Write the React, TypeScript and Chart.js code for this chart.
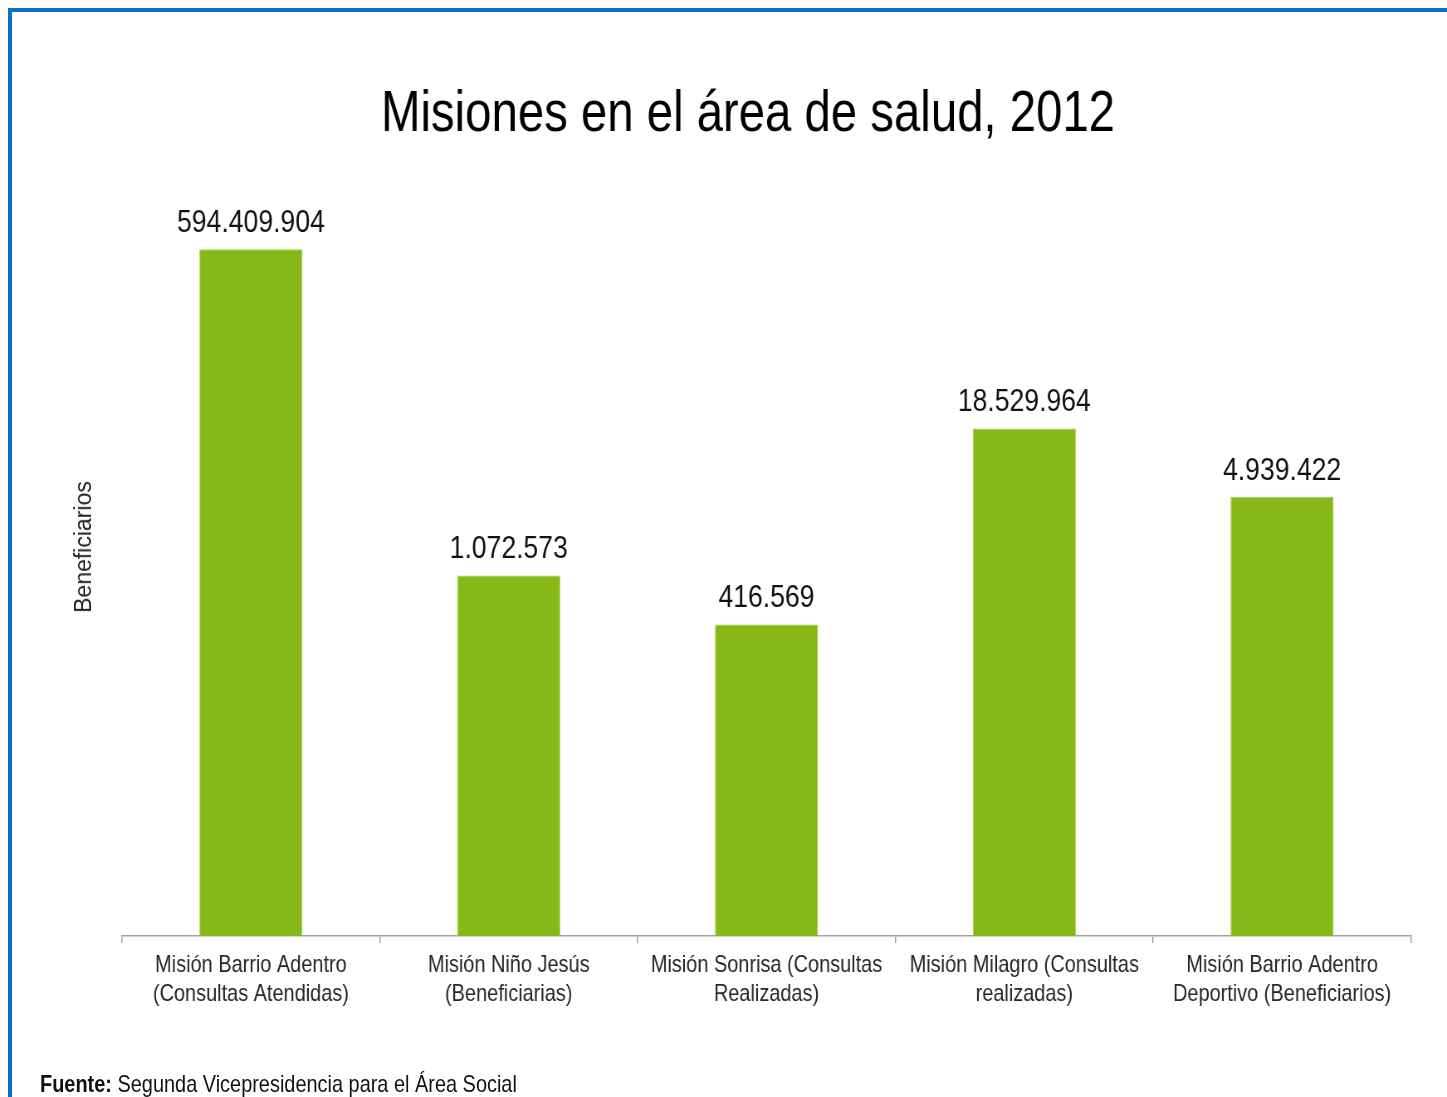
import { useEffect, useRef } from "react";
import { Chart, registerables } from "chart.js";

Chart.register(...registerables);

const categories: string[][] = [
  ["Misión Barrio Adentro", "(Consultas Atendidas)"],
  ["Misión Niño Jesús", "(Beneficiarias)"],
  ["Misión Sonrisa (Consultas", "Realizadas)"],
  ["Misión Milagro (Consultas", "realizadas)"],
  ["Misión Barrio Adentro", "Deportivo (Beneficiarios)"],
];
const values: number[] = [594409904, 1072573, 416569, 18529964, 4939422];
const titleText = "Misiones en el área de salud, 2012";
const yAxisTitle = "Beneficiarios";
const sourceLabel = "Fuente:";
const sourceText = "Segunda Vicepresidencia para el Área Social";
const yMin = 1000;
const yMax = 1000000000;

// No narrow font is installed: the canvas is drawn wider and squeezed
// horizontally so that the text looks like the reference's narrow face.
const CSS_W = 1447;
const CSS_H = 1097;
const SQUEEZE = 0.83;
const CANVAS_W = Math.round(CSS_W / SQUEEZE);

const FONT = '"Liberation Sans", Arial, sans-serif';

function formatNumber(v: number): string {
  return Math.round(v)
    .toString()
    .replace(/\B(?=(\d{3})+(?!\d))/g, ".");
}

const valueLabelPlugin = {
  id: "valueLabels",
  afterDatasetsDraw(chart: any) {
    const ctx = chart.ctx;
    const meta = chart.getDatasetMeta(0);
    ctx.save();
    ctx.font = `32px ${FONT}`;
    ctx.fillStyle = "#111111";
    ctx.textAlign = "center";
    ctx.textBaseline = "middle";
    meta.data.forEach((bar: any, i: number) => {
      const v = chart.data.datasets[0].data[i] as number;
      ctx.fillText(formatNumber(v), bar.x, bar.y - 26);
    });
    ctx.restore();
  },
};

export default function App() {
  const canvasRef = useRef<HTMLCanvasElement | null>(null);

  useEffect(() => {
    if (!canvasRef.current) return;
    const sx = (v: number) => v / SQUEEZE;
    const chart = new Chart(canvasRef.current, {
      type: "bar",
      data: {
        labels: categories,
        datasets: [
          {
            data: values,
            backgroundColor: "#86b817",
            borderColor: "#9fd036",
            borderWidth: 1,
            barPercentage: 0.4,
            categoryPercentage: 1.0,
          },
        ],
      },
      options: {
        animation: false,
        responsive: false,
        maintainAspectRatio: false,
        devicePixelRatio: 1,
        layout: {
          padding: { left: sx(85), right: sx(36), top: 0, bottom: 80 },
        },
        plugins: {
          legend: { display: false },
          tooltip: { enabled: false },
          title: {
            display: true,
            text: titleText,
            color: "#000000",
            font: { family: FONT, size: 57, weight: "normal", lineHeight: 1.2 },
            padding: { top: 81, bottom: 73 },
          },
        },
        scales: {
          x: {
            grid: {
              display: true,
              drawOnChartArea: false,
              drawTicks: true,
              tickLength: 7,
              color: "#a0a0a0",
              lineWidth: 1.5,
              offset: true,
            },
            border: { display: true, color: "#a0a0a0", width: 1.5 },
            ticks: {
              autoSkip: false,
              maxRotation: 0,
              minRotation: 0,
              padding: 8,
              color: "#262626",
              font: { family: FONT, size: 24, lineHeight: "29px" },
            },
          },
          y: {
            type: "logarithmic",
            min: yMin,
            max: yMax,
            display: true,
            grid: { display: false, drawTicks: false },
            border: { display: false },
            ticks: { display: false },
            title: { display: false },
            afterFit: (scale: any) => {
              scale.width = sx(122) - sx(85);
            },
          },
        },
      },
      plugins: [valueLabelPlugin],
    });
    return () => chart.destroy();
  }, []);

  return (
    <div
      style={{
        position: "absolute",
        left: 0,
        top: 0,
        width: CSS_W,
        height: CSS_H,
        overflow: "hidden",
        background: "#ffffff",
      }}
    >
      <div
        style={{
          position: "absolute",
          left: 8,
          top: 8,
          width: CSS_W,
          height: CSS_H,
          borderTop: "4px solid #0b70c1",
          borderLeft: "4px solid #0b70c1",
        }}
      />
      <canvas
        ref={canvasRef}
        width={CANVAS_W}
        height={CSS_H}
        style={{ position: "absolute", left: 0, top: 0, width: CSS_W, height: CSS_H }}
      />
      <div
        style={{
          position: "absolute",
          left: 83,
          top: 547,
          transform: "translate(-50%, -50%) rotate(-90deg)",
          whiteSpace: "nowrap",
          fontFamily: FONT,
          fontSize: 23,
          lineHeight: "26px",
          color: "#222222",
        }}
      >
        {yAxisTitle}
      </div>
      <div
        style={{
          position: "absolute",
          left: 40,
          top: 1071,
          whiteSpace: "nowrap",
          fontFamily: FONT,
          fontSize: 24,
          lineHeight: "26px",
          color: "#111111",
          transform: `scaleX(${SQUEEZE})`,
          transformOrigin: "left center",
        }}
      >
        <b>{sourceLabel}</b> {sourceText}
      </div>
    </div>
  );
}
